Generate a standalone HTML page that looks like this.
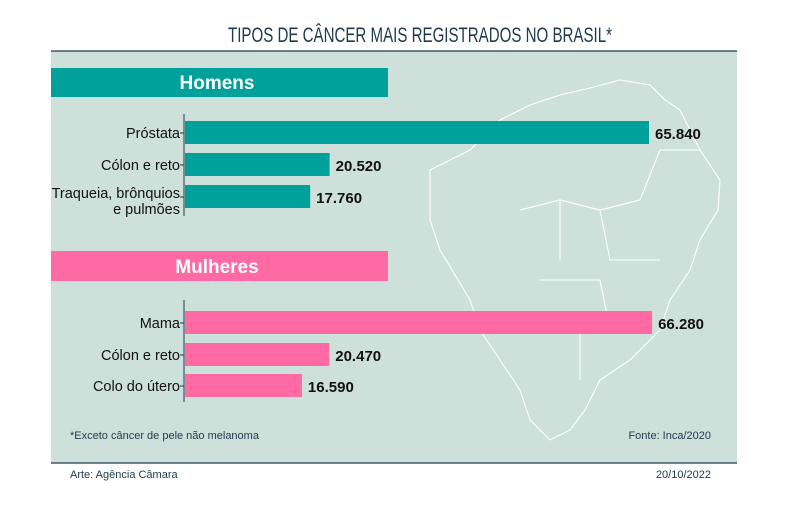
<!DOCTYPE html>
<html><head><meta charset="utf-8"><style>
body{margin:0;width:790px;height:506px;background:#fff;font-family:"Liberation Sans",sans-serif;overflow:hidden}
</style></head><body>
<svg width="790" height="506" xmlns="http://www.w3.org/2000/svg" font-family="Liberation Sans, sans-serif">
<text x="228" y="42" textLength="384" lengthAdjust="spacingAndGlyphs" font-size="21" fill="#1f3a4d">TIPOS DE CÂNCER MAIS REGISTRADOS NO BRASIL*</text>
<rect x="51" y="51" width="686" height="412" fill="#cde0d9"/>
<line x1="51" y1="51" x2="737" y2="51" stroke="#1f3a4d" stroke-width="1.2"/>
<line x1="51" y1="463" x2="737" y2="463" stroke="#1f3a4d" stroke-width="1.2"/>
<path fill="none" stroke="#fff" stroke-width="1.1" d="M430 170 L470 150 L500 120 L530 105 L560 95 L590 88 L620 80 L650 85 L665 100 L680 110 L700 150 L720 180 L718 210 L700 240 L690 270 L670 300 L660 330 L630 360 L600 380 L585 410 L570 430 L550 440 L530 420 L520 390 L500 360 L480 330 L470 300 L455 275 L440 250 L430 220 Z M520 210 L560 200 L600 210 L640 200 M560 200 L560 260 M600 210 L610 260 L660 260 M540 280 L600 280 L610 330 M520 320 L580 330 L580 380 M640 200 L660 150 L700 150"/>
<rect x="51" y="68" width="337" height="29" fill="#00a19a"/>
<text x="217" y="89" text-anchor="middle" font-size="19" font-weight="bold" fill="#fff">Homens</text>
<rect x="51" y="251" width="337" height="30" fill="#ff69a4"/>
<text x="217" y="273" text-anchor="middle" font-size="19" font-weight="bold" fill="#fff">Mulheres</text>
<g id="bars"></g>
<text x="70" y="439" font-size="11" fill="#1f3a4d">*Exceto câncer de pele não melanoma</text>
<text x="711" y="439" text-anchor="end" font-size="11" fill="#1f3a4d">Fonte: Inca/2020</text>
<text x="70" y="478" font-size="11" fill="#1f3a4d">Arte: Agência Câmara</text>
<text x="711" y="478" text-anchor="end" font-size="11" fill="#1f3a4d">20/10/2022</text>
</svg>
<script>
const menCategories=[["Próstata"],["Cólon e reto"],["Traqueia, brônquios","e pulmões"]];
const menValues=[65840,20520,17760];
const womenCategories=[["Mama"],["Cólon e reto"],["Colo do útero"]];
const womenValues=[66280,20470,16590];
const NS="http://www.w3.org/2000/svg";
const g=document.getElementById('bars');
const x0=185, scale=464/65840;
const xs=v=>x0+v*scale;
function mk(t,a){const e=document.createElementNS(NS,t);for(const k in a)e.setAttribute(k,a[k]);g.appendChild(e);return e;}
function group(cats,vals,tops,color,axisY1,axisY2,prefix){
  const ax=mk('line',{x1:184,x2:184,y1:axisY1,y2:axisY2,stroke:'#1f3a4d','stroke-width':1});
  
  
  vals.forEach((v,i)=>{
    const y=tops[i];
    const r=mk('rect',{x:x0,y:y,width:xs(v)-x0,height:23,fill:color});
    
    
    const t=mk('line',{x1:180,x2:184,y1:y+12,y2:y+12,stroke:'#1f3a4d'});
    
    
    const vl=mk('text',{x:xs(v)+6,y:y+18,'font-size':15,'font-weight':'bold',fill:'#111'});
    vl.textContent=v.toLocaleString('de-DE');
    
    
    const lines=cats[i];
    lines.forEach((s,j)=>{
      const l=mk('text',{x:180,y:y+17+j*16-(lines.length-1)*4,'text-anchor':'end','font-size':14.5,fill:'#111'});
      l.textContent=s;
      
      
    });
  });
}
group(menCategories,menValues,[121,153,185],'#00a19a',114,216,'men');
group(womenCategories,womenValues,[311,343,374],'#ff69a4',300,402,'women');
</script>
</body></html>
